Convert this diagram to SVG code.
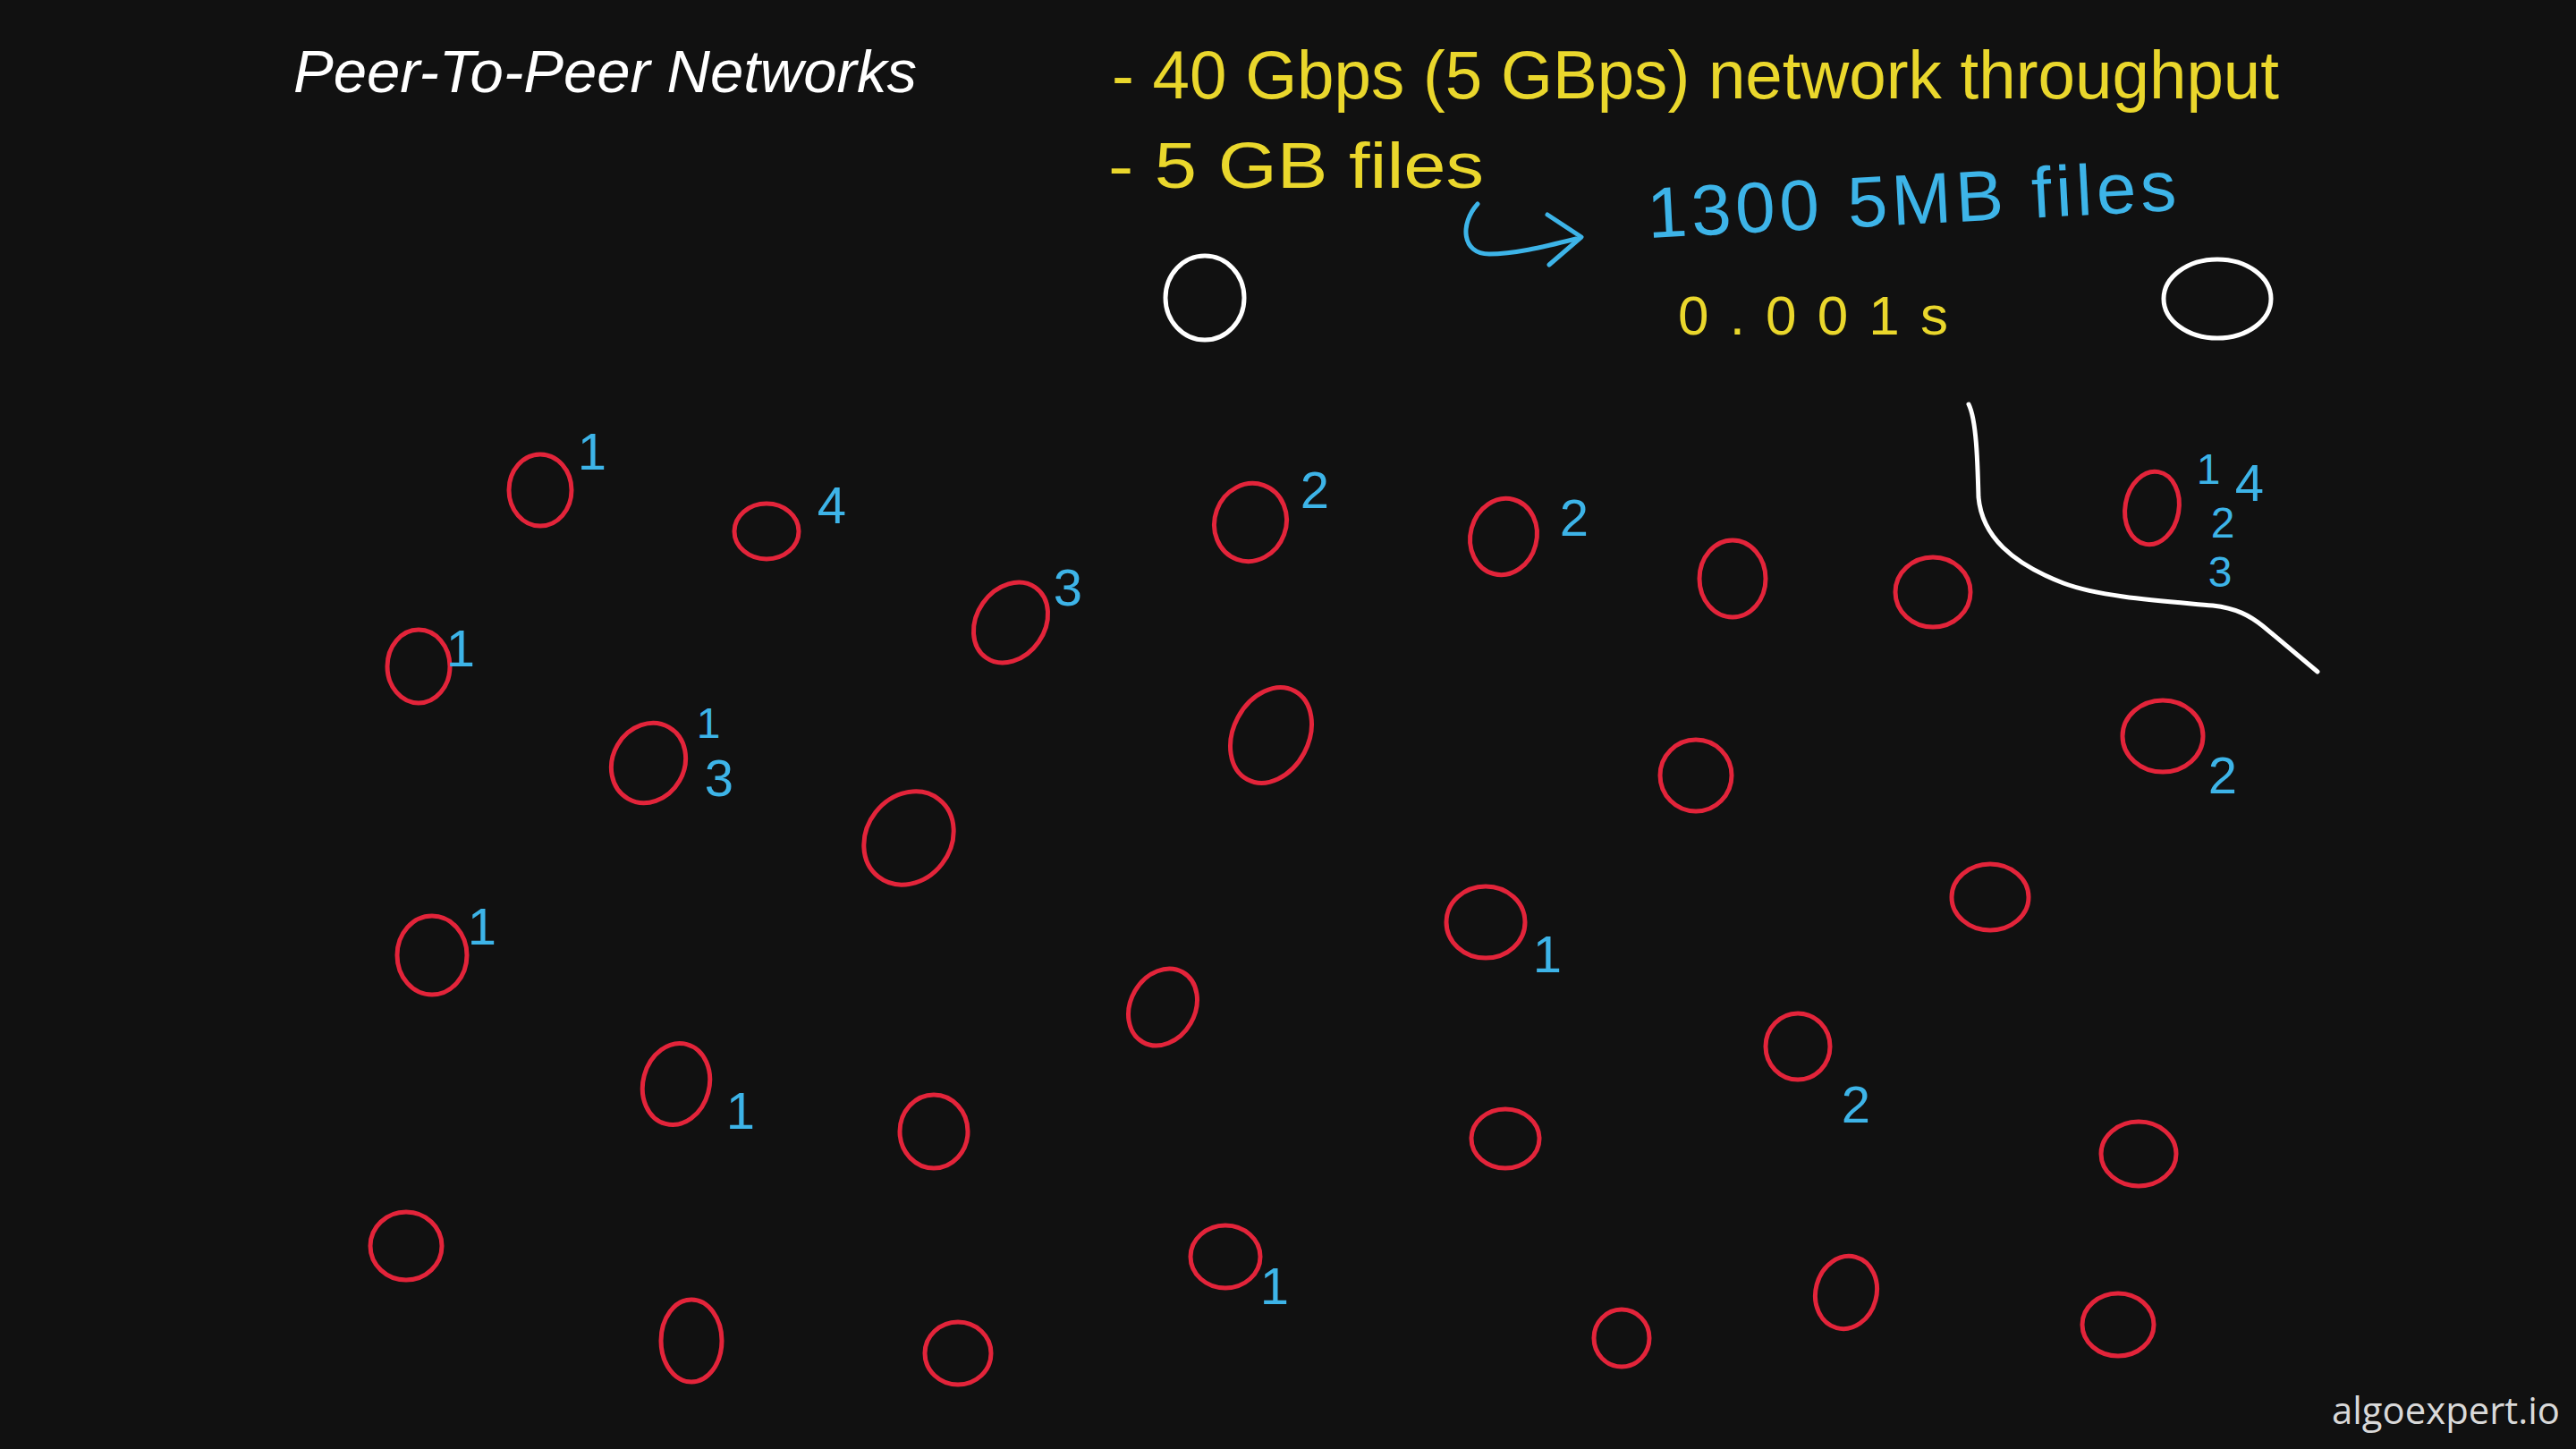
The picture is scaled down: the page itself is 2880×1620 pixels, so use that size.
<svg xmlns="http://www.w3.org/2000/svg" width="2880" height="1620" viewBox="0 0 2880 1620">
<style>
.peer{fill:none;stroke:#e3243a;stroke-width:5}
.host{fill:none;stroke:#ffffff;stroke-width:5}
.num{font-family:"Liberation Sans",Arial,sans-serif;font-size:58px;fill:#3db4e8;text-anchor:middle}
.sm{font-size:48px}
.yel{font-family:"Liberation Sans",Arial,sans-serif;fill:#ead72c}
.blu{font-family:"Liberation Sans",Arial,sans-serif;fill:#3db4e8}
</style>
<rect width="2880" height="1620" fill="#111111"/>
<text x="328" y="103" font-family="Liberation Sans, Arial, sans-serif" font-style="italic" font-size="67" fill="#ffffff" textLength="697" lengthAdjust="spacingAndGlyphs">Peer-To-Peer Networks</text>
<text class="yel" x="1243" y="110" font-size="76" textLength="1305" lengthAdjust="spacingAndGlyphs">- 40 Gbps (5 GBps) network throughput</text>
<text class="yel" x="1239" y="210" font-size="72" textLength="420" lengthAdjust="spacingAndGlyphs">- 5 GB files</text>
<text class="blu" x="1843" y="266" font-size="80" textLength="592" lengthAdjust="spacing" transform="rotate(-3 1843 266)">1300 5MB files</text>
<text class="yel" x="1876" y="374" font-size="62" textLength="302" lengthAdjust="spacing">0.001s</text>
<text x="2607" y="1592" font-family="Open Sans, Lato, sans-serif" font-size="42" fill="#d9d9d9" textLength="255" lengthAdjust="spacingAndGlyphs">algoexpert.io</text>
<g id="annotations" fill="none" stroke-linecap="round" stroke-linejoin="round">
<path d="M1652,228 C1632,250 1634,284 1665,284 C1692,284 1722,277 1762,267" stroke="#3db4e8" stroke-width="5"/>
<path d="M1730,240 L1768,265 L1732,296" stroke="#3db4e8" stroke-width="5"/>
<path d="M2201,452 C2210,470 2211,520 2212,556 C2216,600 2250,630 2307,652 C2350,668 2420,672 2474,677 C2500,680 2515,688 2530,700 L2591,751" stroke="#ffffff" stroke-width="5"/>
</g>
<g id="host-a"><ellipse class="host" cx="1347" cy="333" rx="44" ry="47"/></g>
<g id="host-b"><ellipse class="host" cx="2479" cy="334" rx="60" ry="44"/></g>
<g id="peer-1"><ellipse class="peer" cx="604" cy="548" rx="35" ry="40"/><text class="num" x="662" y="525">1</text></g>
<g id="peer-2"><ellipse class="peer" cx="857" cy="594" rx="36" ry="31"/><text class="num" x="930" y="585">4</text></g>
<g id="peer-3"><ellipse class="peer" cx="1398" cy="584" rx="40" ry="44" transform="rotate(20 1398 584)"/><text class="num" x="1470" y="568">2</text></g>
<g id="peer-4"><ellipse class="peer" cx="1681" cy="600" rx="37" ry="43" transform="rotate(15 1681 600)"/><text class="num" x="1760" y="599">2</text></g>
<g id="peer-5"><ellipse class="peer" cx="1937" cy="647" rx="37" ry="43"/></g>
<g id="peer-6"><ellipse class="peer" cx="2161" cy="662" rx="42" ry="39"/></g>
<g id="peer-7"><ellipse class="peer" cx="2406" cy="568" rx="30" ry="41" transform="rotate(10 2406 568)"/><text class="num sm" x="2469" y="541">1</text><text class="num" x="2515" y="560">4</text><text class="num sm" x="2485" y="601">2</text><text class="num sm" x="2482" y="656">3</text></g>
<g id="peer-8"><ellipse class="peer" cx="1130" cy="696" rx="38" ry="48" transform="rotate(35 1130 696)"/><text class="num" x="1194" y="677">3</text></g>
<g id="peer-9"><ellipse class="peer" cx="468" cy="745" rx="35" ry="41"/><text class="num" x="515" y="745">1</text></g>
<g id="peer-10"><ellipse class="peer" cx="725" cy="853" rx="40" ry="46" transform="rotate(30 725 853)"/><text class="num sm" x="792" y="825">1</text><text class="num" x="804" y="890">3</text></g>
<g id="peer-11"><ellipse class="peer" cx="1421" cy="822" rx="42" ry="56" transform="rotate(28 1421 822)"/></g>
<g id="peer-12"><ellipse class="peer" cx="1016" cy="937" rx="47" ry="55" transform="rotate(38 1016 937)"/></g>
<g id="peer-13"><ellipse class="peer" cx="1896" cy="867" rx="40" ry="40"/></g>
<g id="peer-14"><ellipse class="peer" cx="2418" cy="823" rx="45" ry="40"/><text class="num" x="2485" y="887">2</text></g>
<g id="peer-15"><ellipse class="peer" cx="1661" cy="1031" rx="44" ry="40"/><text class="num" x="1730" y="1087">1</text></g>
<g id="peer-16"><ellipse class="peer" cx="2225" cy="1003" rx="43" ry="37"/></g>
<g id="peer-17"><ellipse class="peer" cx="483" cy="1068" rx="39" ry="44"/><text class="num" x="539" y="1056">1</text></g>
<g id="peer-18"><ellipse class="peer" cx="1300" cy="1126" rx="36" ry="45" transform="rotate(30 1300 1126)"/></g>
<g id="peer-19"><ellipse class="peer" cx="756" cy="1212" rx="37" ry="46" transform="rotate(15 756 1212)"/><text class="num" x="828" y="1262">1</text></g>
<g id="peer-20"><ellipse class="peer" cx="1044" cy="1265" rx="38" ry="41"/></g>
<g id="peer-21"><ellipse class="peer" cx="2010" cy="1170" rx="36" ry="37"/><text class="num" x="2075" y="1255">2</text></g>
<g id="peer-22"><ellipse class="peer" cx="1683" cy="1273" rx="38" ry="33"/></g>
<g id="peer-23"><ellipse class="peer" cx="2391" cy="1290" rx="42" ry="36"/></g>
<g id="peer-24"><ellipse class="peer" cx="454" cy="1393" rx="40" ry="38"/></g>
<g id="peer-25"><ellipse class="peer" cx="1370" cy="1405" rx="39" ry="35"/><text class="num" x="1425" y="1458">1</text></g>
<g id="peer-26"><ellipse class="peer" cx="2064" cy="1445" rx="34" ry="41" transform="rotate(15 2064 1445)"/></g>
<g id="peer-27"><ellipse class="peer" cx="773" cy="1499" rx="34" ry="46"/></g>
<g id="peer-28"><ellipse class="peer" cx="1071" cy="1513" rx="37" ry="35"/></g>
<g id="peer-29"><ellipse class="peer" cx="1813" cy="1496" rx="31" ry="32"/></g>
<g id="peer-30"><ellipse class="peer" cx="2368" cy="1481" rx="40" ry="35"/></g>
</svg>
